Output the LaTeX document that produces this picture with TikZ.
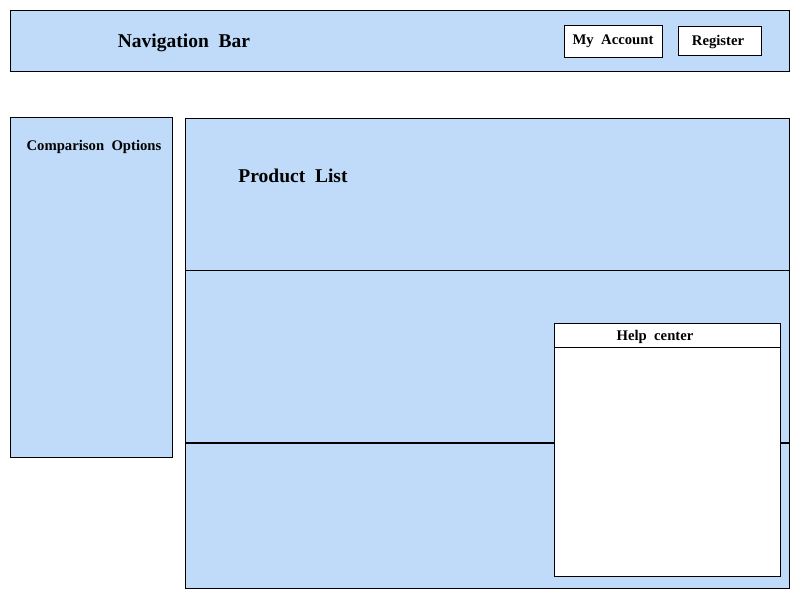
\documentclass[tikz,border=0pt]{standalone}
\usepackage{fontspec}
\setmainfont{Liberation Serif}
\definecolor{panel}{RGB}{192,219,249}
\begin{document}
\begin{tikzpicture}[x=1pt,y=-1pt,
  panelbox/.style={draw=black,fill=panel,line width=0.9pt},
  whitebox/.style={draw=black,fill=white,line width=0.9pt},
  lbl/.style={font=\bfseries\fontsize{#1}{#1}\selectfont,inner sep=0pt},
  lbl/.default=14.7]
\useasboundingbox (0,0) rectangle (800,600);
% navigation bar
\draw[panelbox] (10,10) rectangle (789,71);
\node[lbl=19.5] (nav) at (184,43) {Navigation\ \ Bar};
\draw[whitebox] (564,25) rectangle (662,57);
\node[lbl] (acct) at (613,41.5) {My\ \ Account};
\draw[whitebox] (678,26) rectangle (761,55);
\node[lbl] (reg) at (718,42.5) {Register};
% comparison options
\draw[panelbox] (10,117) rectangle (172,457);
\node[lbl] (cmp) at (94,147) {Comparison\ \ Options};
% product list
\draw[panelbox] (185,118) rectangle (789,270);
\draw[panelbox] (185,270) rectangle (789,443);
\draw[panelbox] (185,443) rectangle (789,588);
\draw[line width=1.6pt] (185,443) -- (789,443);
\node[lbl=19.5] (prod) at (293,175.5) {Product\ \ List};
% help center
\draw[whitebox] (554,323) rectangle (780,576);
\draw[line width=0.9pt] (554,347) -- (780,347);
\node[lbl] (help) at (655,336.5) {Help\ \ center};
\end{tikzpicture}
\end{document}
